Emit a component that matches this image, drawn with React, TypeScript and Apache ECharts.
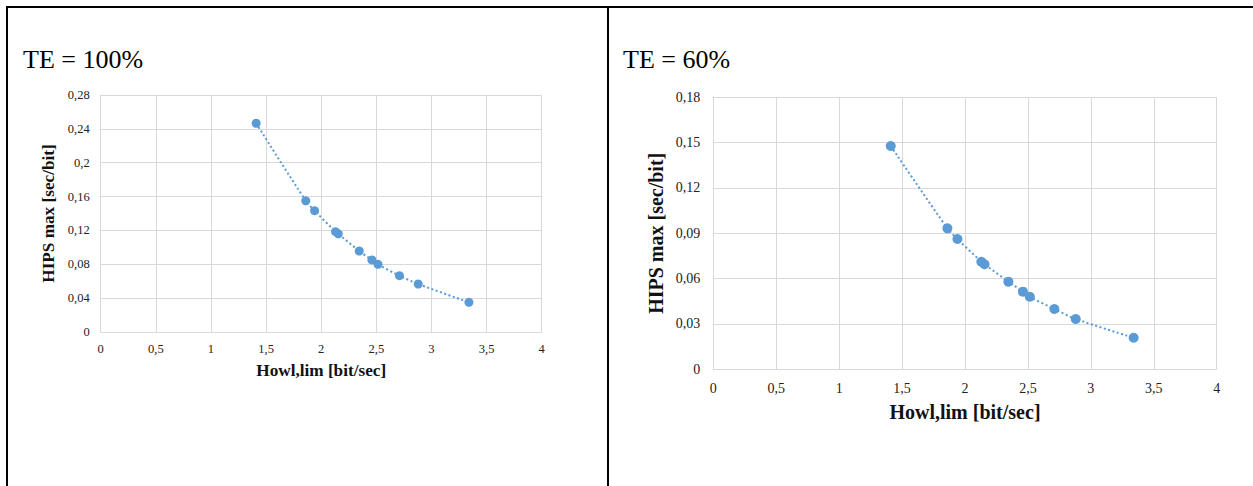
import React, { useEffect, useRef } from "react";
import * as echarts from "echarts";

// Data
const howlLim = [1.41, 1.86, 1.94, 2.13, 2.155, 2.345, 2.46, 2.515, 2.71, 2.88, 3.34];
const hipsTE100 = [0.2466, 0.155, 0.1433, 0.1185, 0.116, 0.0957, 0.0851, 0.08, 0.0665, 0.0567, 0.0351];
const hipsTE60 = [0.1478, 0.0933, 0.0862, 0.0712, 0.0695, 0.058, 0.0514, 0.048, 0.0399, 0.0333, 0.0209];
const panelTitles = ["TE = 100%", "TE = 60%"];
const xAxisTitle = "Howl,lim [bit/sec]";
const yAxisTitle = "HIPS max [sec/bit]";
const xRange = { min: 0, max: 4, interval: 0.5 };
const yRange100 = { min: 0, max: 0.28, interval: 0.04 };
const yRange60 = { min: 0, max: 0.18, interval: 0.03 };

const SERIF = "Liberation Serif";
const BLUE = "#5b9bd5";
const GRID = "#d9d9d9";

const fmt = (v: number) => String(parseFloat(v.toFixed(3))).replace(".", ",");

function axisPair(gridIndex: number, yr: any, tick: number, title: number, xGap: number, yGap: number, labelMargin: number, xLabelMargin: number) {
  const xAxis = {
    type: "value",
    gridIndex,
    min: xRange.min,
    max: xRange.max,
    interval: xRange.interval,
    name: xAxisTitle,
    nameLocation: "middle",
    nameGap: xGap,
    nameTextStyle: { fontFamily: SERIF, fontWeight: "bold", fontSize: title, color: "#111" },
    axisLine: { show: true, lineStyle: { color: GRID, width: 1 } },
    axisTick: { show: false },
    axisLabel: { fontFamily: SERIF, fontSize: tick, color: "#222", margin: xLabelMargin, formatter: fmt },
    splitLine: { show: true, lineStyle: { color: GRID, width: 1 } },
  };
  const yAxis = {
    type: "value",
    gridIndex,
    min: yr.min,
    max: yr.max,
    interval: yr.interval,
    name: yAxisTitle,
    nameLocation: "middle",
    nameRotate: 90,
    nameGap: yGap,
    nameTextStyle: { fontFamily: SERIF, fontWeight: "bold", fontSize: title, color: "#111" },
    axisLine: { show: true, lineStyle: { color: GRID, width: 1 } },
    axisTick: { show: false },
    axisLabel: { fontFamily: SERIF, fontSize: tick, color: "#222", margin: labelMargin, formatter: fmt },
    splitLine: { show: true, lineStyle: { color: GRID, width: 1 } },
  };
  return { xAxis, yAxis };
}

function seriesFor(idx: number, values: number[], size: number) {
  return {
    type: "line",
    xAxisIndex: idx,
    yAxisIndex: idx,
    data: howlLim.map((x, i) => [x, values[i]]),
    smooth: 0.3,
    symbol: "circle",
    symbolSize: size,
    showSymbol: true,
    itemStyle: { color: BLUE },
    lineStyle: { color: BLUE, width: 2, type: [2, 2.5] },
    emphasis: { disabled: true },
  };
}

export default function App() {
  const ref = useRef<HTMLDivElement>(null);
  useEffect(() => {
    document.body.style.margin = "0";
    const chart = echarts.init(ref.current!, undefined, { renderer: "svg" });
    const a = axisPair(0, yRange100, 12.5, 17.2, 30, 44, 11, 10);
    const b = axisPair(1, yRange60, 14, 20, 33, 47, 13, 12);
    chart.setOption({
      animation: false,
      backgroundColor: "#ffffff",
      grid: [
        { left: 100.7, top: 95, width: 441, height: 237, containLabel: false },
        { left: 713.3, top: 97.3, width: 503.4, height: 272, containLabel: false },
      ],
      xAxis: [a.xAxis, b.xAxis],
      yAxis: [a.yAxis, b.yAxis],
      series: [seriesFor(0, hipsTE100, 9), seriesFor(1, hipsTE60, 10)],
      graphic: [
        { type: "line", shape: { x1: 6, y1: 7, x2: 1253, y2: 7 }, style: { stroke: "#000", lineWidth: 2 } },
        { type: "line", shape: { x1: 7, y1: 6, x2: 7, y2: 486 }, style: { stroke: "#000", lineWidth: 2 } },
        { type: "line", shape: { x1: 608, y1: 6, x2: 608, y2: 486 }, style: { stroke: "#000", lineWidth: 2 } },
        {
          type: "text",
          x: 23,
          y: 59.5,
          style: { text: panelTitles[0], fontFamily: SERIF, fontSize: 26, fill: "#000", verticalAlign: "middle", align: "left" },
        },
        {
          type: "text",
          x: 623,
          y: 59.5,
          style: { text: panelTitles[1], fontFamily: SERIF, fontSize: 26, fill: "#000", verticalAlign: "middle", align: "left" },
        },
      ],
    });
    return () => chart.dispose();
  }, []);
  return <div ref={ref} style={{ width: 1253, height: 486 }} />;
}
